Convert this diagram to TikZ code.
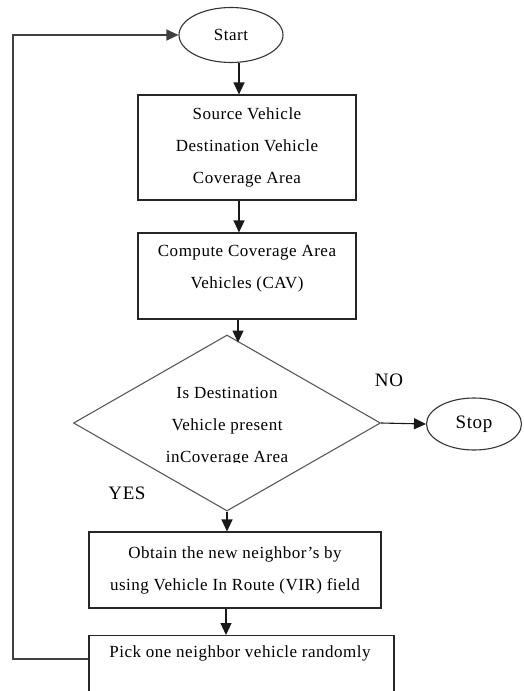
\documentclass[tikz,border=0pt]{standalone}
\usepackage{fontspec}
\setmainfont{Liberation Serif}[LetterSpace=3]
\usetikzlibrary{shapes.geometric,arrows.meta}

\begin{document}
\begin{tikzpicture}[x=1pt,y=-1pt,
    font=\fontsize{17}{32}\selectfont,
    box/.style={draw=black!85, line width=1.1pt, align=center, inner sep=0pt},
    oval/.style={draw=black!80, line width=1.1pt, ellipse, inner sep=0pt},
    arr/.style={black!90, line width=1.1pt, -{Triangle[length=12pt,width=11pt]}},
    tag/.style={font=\fontsize{19}{22}\selectfont}]
    \useasboundingbox (0,0) rectangle (524,691);
    \node [oval, minimum width=104pt, minimum height=55pt] (start) at (231,35) {Start};
    \node [box, minimum width=218pt, minimum height=105pt] (src) at (247,147.5) {Source Vehicle\\Destination Vehicle\\Coverage Area};
    \node [box, minimum width=218pt, minimum height=86pt] (cav) at (247,276) {};
    \node [align=center] (cavtext) at (247,269) {Compute Coverage Area\\Vehicles (CAV)};
    \node [draw=black!65, line width=1.1pt, diamond, minimum width=307pt, minimum height=176pt, inner sep=0pt] (dec) at (227,423) {};
    \begin{scope}
        \clip (100,370) rectangle (350,462);
        \node [align=center] (dectext) at (227,427) {Is Destination\\Vehicle present\\inCoverage Area};
    \end{scope}
    \node [oval, font=\fontsize{19}{22}\selectfont, minimum width=95pt, minimum height=52pt] (stop) at (474,424) {Stop};
    \node [tag] (no) at (389,380) {NO};
    \node [tag] (yes) at (127,493) {YES};
    \node [box, minimum width=292pt, minimum height=76pt] (nbr) at (235,570) {Obtain the new neighbor’s by\\using Vehicle In Route (VIR) field};
    \node [box, minimum width=305pt, minimum height=80pt, anchor=north] (pick) at (241.5,635) {};
    \node (picktext) at (240,653) {Pick one neighbor vehicle randomly};
    \coordinate (corner) at (13,659);

    \draw [arr] ([xshift=8]start.south) -- ([xshift=-8]src.north);
    \draw [arr] ([xshift=-8]src.south) -- ([xshift=-8]cav.north);
    \draw [arr] ([xshift=-9]cav.south) -- ++(0,23);
    \draw [arr] (dec.east) -- (stop.west);
    \draw [arr] (dec.south) -- (dec.south |- nbr.north);
    \draw [arr] ([xshift=-9]nbr.south) -- ([xshift=-9]nbr.south |- pick.north);
    \draw [arr, black!75] ([yshift=-24]pick.north west) -- (corner) |- (start.west);
\end{tikzpicture}
\end{document}
